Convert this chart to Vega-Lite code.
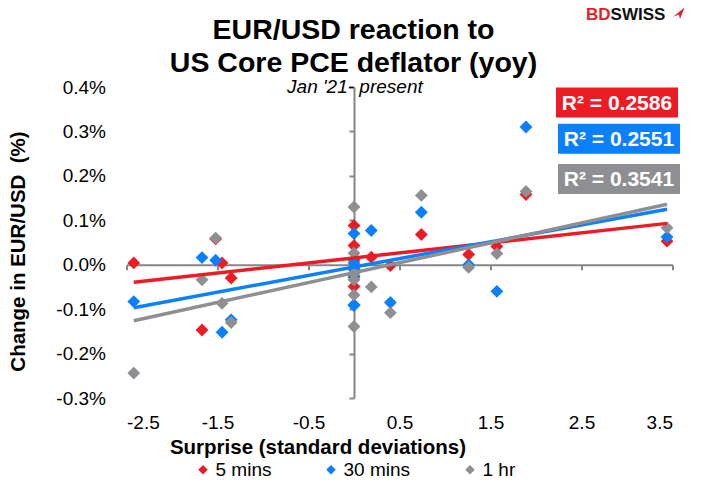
{
  "$schema": "https://vega.github.io/schema/vega-lite/v6.json",
  "width": 546,
  "height": 311,
  "autosize": "none",
  "padding": {"left": 126.5, "top": 87, "right": 28.5, "bottom": 92},
  "background": "white",
  "config": {"font": "Liberation Sans", "view": {"stroke": null}},
  "title": {
    "text": ["EUR/USD reaction to", "US Core PCE deflator (yoy)"],
    "fontSize": 28.5,
    "fontWeight": "bold",
    "color": "black",
    "anchor": "middle",
    "frame": "group",
    "dx": -46,
    "offset": -72,
    "lineHeight": 33
  },
  "datasets": {
    "points": [
      {"x": -2.42, "series": "5 mins", "y": 0.004},
      {"x": -1.67, "series": "5 mins", "y": -0.147},
      {"x": -1.52, "series": "5 mins", "y": 0.058},
      {"x": -1.45, "series": "5 mins", "y": 0.004},
      {"x": -1.35, "series": "5 mins", "y": -0.030},
      {"x": 0, "series": "5 mins", "y": 0.088},
      {"x": 0, "series": "5 mins", "y": 0.043},
      {"x": 0, "series": "5 mins", "y": 0.010},
      {"x": 0, "series": "5 mins", "y": -0.011},
      {"x": 0, "series": "5 mins", "y": -0.028},
      {"x": 0, "series": "5 mins", "y": -0.049},
      {"x": 0.19, "series": "5 mins", "y": 0.017},
      {"x": 0.40, "series": "5 mins", "y": -0.002},
      {"x": 0.74, "series": "5 mins", "y": 0.068},
      {"x": 1.26, "series": "5 mins", "y": 0.023},
      {"x": 1.57, "series": "5 mins", "y": 0.041},
      {"x": 1.89, "series": "5 mins", "y": 0.158},
      {"x": 3.44, "series": "5 mins", "y": 0.053},
      {"x": -2.42, "series": "30 mins", "y": -0.083},
      {"x": -1.67, "series": "30 mins", "y": 0.016},
      {"x": -1.52, "series": "30 mins", "y": 0.010},
      {"x": -1.45, "series": "30 mins", "y": -0.152},
      {"x": -1.35, "series": "30 mins", "y": -0.124},
      {"x": 0, "series": "30 mins", "y": 0.070},
      {"x": 0, "series": "30 mins", "y": 0.004},
      {"x": 0, "series": "30 mins", "y": -0.008},
      {"x": 0, "series": "30 mins", "y": -0.025},
      {"x": 0, "series": "30 mins", "y": -0.090},
      {"x": 0, "series": "30 mins", "y": -0.092},
      {"x": 0.19, "series": "30 mins", "y": 0.077},
      {"x": 0.40, "series": "30 mins", "y": -0.085},
      {"x": 0.74, "series": "30 mins", "y": 0.118},
      {"x": 1.26, "series": "30 mins", "y": 0.000},
      {"x": 1.57, "series": "30 mins", "y": -0.060},
      {"x": 1.89, "series": "30 mins", "y": 0.310},
      {"x": 3.44, "series": "30 mins", "y": 0.0625},
      {"x": -2.42, "series": "1 hr", "y": -0.244},
      {"x": -1.67, "series": "1 hr", "y": -0.034},
      {"x": -1.52, "series": "1 hr", "y": 0.060},
      {"x": -1.45, "series": "1 hr", "y": -0.087},
      {"x": -1.35, "series": "1 hr", "y": -0.130},
      {"x": 0, "series": "1 hr", "y": 0.130},
      {"x": 0, "series": "1 hr", "y": 0.026},
      {"x": 0, "series": "1 hr", "y": -0.019},
      {"x": 0, "series": "1 hr", "y": -0.034},
      {"x": 0, "series": "1 hr", "y": -0.068},
      {"x": 0, "series": "1 hr", "y": -0.139},
      {"x": 0.19, "series": "1 hr", "y": -0.050},
      {"x": 0.40, "series": "1 hr", "y": -0.108},
      {"x": 0.74, "series": "1 hr", "y": 0.156},
      {"x": 1.26, "series": "1 hr", "y": -0.006},
      {"x": 1.57, "series": "1 hr", "y": 0.025},
      {"x": 1.89, "series": "1 hr", "y": 0.165},
      {"x": 3.44, "series": "1 hr", "y": 0.083}
    ],
    "r2": [
      {"series": "5 mins", "label": "R² = 0.2586", "x": 2.89, "y": 0.365},
      {"series": "30 mins", "label": "R² = 0.2551", "x": 2.912, "y": 0.2836},
      {"series": "1 hr", "label": "R² = 0.3541", "x": 2.912, "y": 0.193}
    ],
    "notes": [
      {"label": "Jan '21- present", "x": 0.01, "y": 0.4}
    ],
    "logo": [
      {"part": "BD", "x": 2.82, "y": 0.563},
      {"part": "SWISS", "x": 2.82, "y": 0.563},
      {"part": "icon", "x": 3.57, "y": 0.566}
    ]
  },
  "resolve": {"axis": {"x": "independent", "y": "independent"}},
  "layer": [
    {
      "data": {"name": "points"},
      "mark": {"type": "point", "shape": "diamond", "filled": true, "size": 165, "opacity": 1},
      "encoding": {
        "x": {
          "field": "x",
          "type": "quantitative",
          "scale": {"domain": [-2.5, 3.5], "nice": false, "zero": false},
          "axis": {
            "orient": "bottom",
            "values": [-2.5, -1.5, -0.5, 0.5, 1.5, 2.5, 3.5],
            "labelExpr": "replace(format(datum.value, '.1f'), '\u2212', '-')",
            "domain": false,
            "ticks": false,
            "grid": false,
            "labelFontSize": 19,
            "labelColor": "black",
            "labelPadding": 15,
            "title": "Surprise (standard deviations)",
            "titleFontSize": 20.5,
            "titleFontWeight": "bold",
            "titleColor": "black",
            "titleX": 191,
            "titleY": 49,
            "titleBaseline": "middle"
          }
        },
        "y": {
          "field": "y",
          "type": "quantitative",
          "scale": {"domain": [-0.3, 0.4], "nice": false, "zero": false},
          "axis": {
            "orient": "left",
            "values": [-0.3, -0.2, -0.1, 0, 0.1, 0.2, 0.3, 0.4],
            "labelExpr": "replace(format(datum.value, '.1f'), '\u2212', '-') + '%'",
            "domain": false,
            "ticks": false,
            "grid": false,
            "labelFontSize": 19,
            "labelColor": "black",
            "labelPadding": 21,
            "title": "Change in EUR/USD\u00a0\u00a0(%)",
            "titleFontSize": 20.5,
            "titleFontWeight": "bold",
            "titleColor": "black",
            "titleX": -98,
            "titleY": 164,
            "titleBaseline": "bottom"
          }
        },
        "color": {
          "field": "series",
          "type": "nominal",
          "scale": {"domain": ["5 mins", "30 mins", "1 hr"], "range": ["#ED1C24", "#0A80FF", "#8E8F93"]},
          "legend": {
            "title": null,
            "orient": "none",
            "legendX": 67,
            "legendY": 373,
            "direction": "horizontal",
            "symbolType": "diamond",
            "symbolSize": 90,
            "symbolStrokeWidth": 0,
            "symbolOpacity": 1,
            "labelFontSize": 19,
            "labelColor": "black",
            "labelOffset": 3,
            "columnPadding": 50,
            "padding": 0
          }
        }
      }
    },
    {
      "data": {"name": "points"},
      "transform": [{"regression": "y", "on": "x", "groupby": ["series"]}],
      "mark": {"type": "line", "strokeWidth": 3.5},
      "encoding": {
        "x": {
          "field": "x",
          "type": "quantitative",
          "axis": {
            "orient": "bottom",
            "offset": -133.3,
            "values": [-2.5, -1.5, -0.5, 0.5, 1.5, 2.5, 3.5],
            "labels": false,
            "domain": true,
            "domainColor": "#868686",
            "domainWidth": 2,
            "ticks": true,
            "tickColor": "#868686",
            "tickWidth": 2,
            "tickSize": 5,
            "grid": false,
            "title": null
          }
        },
        "y": {
          "field": "y",
          "type": "quantitative",
          "axis": {
            "orient": "left",
            "offset": -227.5,
            "values": [-0.3, -0.2, -0.1, 0, 0.1, 0.2, 0.3, 0.4],
            "labels": false,
            "domain": true,
            "domainColor": "#868686",
            "domainWidth": 2,
            "ticks": true,
            "tickColor": "#868686",
            "tickWidth": 2,
            "tickSize": 5,
            "grid": false,
            "title": null
          }
        },
        "color": {"field": "series", "type": "nominal", "legend": null}
      }
    },
    {
      "data": {"name": "r2"},
      "mark": {"type": "point", "shape": "M-1,-0.246L1,-0.246L1,0.246L-1,0.246Z", "filled": true, "size": 14884, "opacity": 1},
      "encoding": {
        "x": {"field": "x", "type": "quantitative", "axis": null},
        "y": {"field": "y", "type": "quantitative", "axis": null},
        "color": {"field": "series", "type": "nominal", "legend": null}
      }
    },
    {
      "data": {"name": "r2"},
      "mark": {"type": "text", "color": "white", "fontWeight": "bold", "fontSize": 21, "align": "center", "baseline": "middle", "dy": 1},
      "encoding": {
        "x": {"field": "x", "type": "quantitative", "axis": null},
        "y": {"field": "y", "type": "quantitative", "axis": null},
        "text": {"field": "label"}
      }
    },
    {
      "data": {"name": "notes"},
      "mark": {"type": "text", "color": "black", "fontStyle": "italic", "fontSize": 19, "align": "center", "baseline": "middle"},
      "encoding": {
        "x": {"field": "x", "type": "quantitative", "axis": null},
        "y": {"field": "y", "type": "quantitative", "axis": null},
        "text": {"field": "label"}
      }
    },
    {
      "data": {"name": "logo"},
      "transform": [{"filter": "datum.part == 'BD'"}],
      "mark": {"type": "text", "color": "#E41E26", "fontWeight": "bold", "fontSize": 17, "align": "right", "baseline": "middle"},
      "encoding": {
        "x": {"field": "x", "type": "quantitative", "axis": null},
        "y": {"field": "y", "type": "quantitative", "axis": null},
        "text": {"field": "part"}
      }
    },
    {
      "data": {"name": "logo"},
      "transform": [{"filter": "datum.part == 'SWISS'"}],
      "mark": {"type": "text", "color": "#111111", "fontWeight": "bold", "fontSize": 17, "align": "left", "baseline": "middle"},
      "encoding": {
        "x": {"field": "x", "type": "quantitative", "axis": null},
        "y": {"field": "y", "type": "quantitative", "axis": null},
        "text": {"field": "part"}
      }
    },
    {
      "data": {"name": "logo"},
      "transform": [{"filter": "datum.part == 'icon'"}],
      "mark": {"type": "point", "shape": "M-1,0.6L1,-1L0.2,1L0,0.2Z", "filled": true, "size": 130, "color": "#E41E26", "opacity": 1},
      "encoding": {
        "x": {"field": "x", "type": "quantitative", "axis": null},
        "y": {"field": "y", "type": "quantitative", "axis": null}
      }
    }
  ]
}
